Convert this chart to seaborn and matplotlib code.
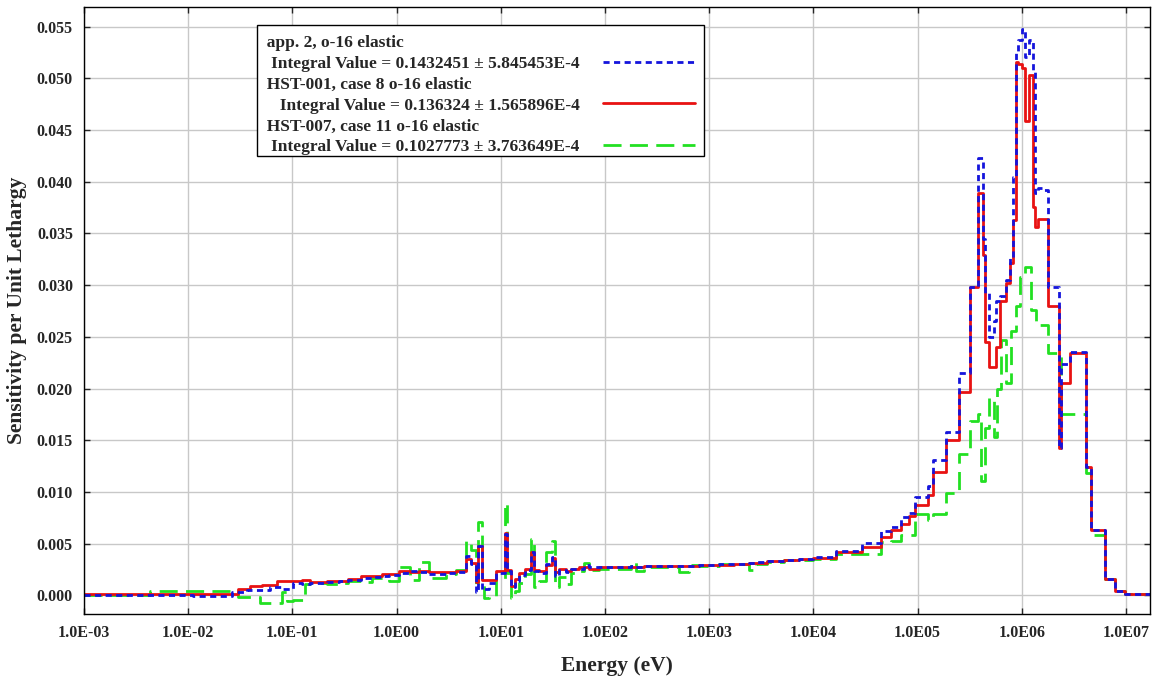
import matplotlib
matplotlib.use("Agg")
import matplotlib.pyplot as plt
import seaborn as sns
import pandas as pd
from matplotlib.offsetbox import TextArea
from matplotlib.legend_handler import HandlerLine2D
from matplotlib.lines import Line2D
from matplotlib.ticker import NullLocator

# group edges in eV (last entry only closes the final group)
energy_ev = [1.0e-3, 4.29e-3, 1.11e-2, 2.62e-2, 2.99e-2, 3.64e-2, 3.89e-2, 4.85e-2, 5.07e-2, 6.05e-2,
             7.06e-2, 7.89e-2, 8.79e-2, 0.1005, 0.1225, 0.131, 0.146, 0.213, 0.283, 0.338,
             0.460, 0.586, 0.731, 0.853, 1.06, 1.33, 1.65, 2.06, 3.00, 3.74,
             4.67, 5.20, 5.81, 6.08, 6.64, 6.93, 7.74, 9.04, 11.0, 11.5,
             12.6, 13.7, 15.0, 17.1, 19.5, 20.9, 23.3, 27.2, 31.0, 33.2,
             36.2, 42.3, 47.2, 56.4, 62.9, 70.3, 87.7, 177, 198, 237,
             512, 638, 795, 1236, 1722, 2395, 2794, 3565, 5180, 7210,
             9820, 1.63e4, 2.90e4, 4.41e4, 5.61e4, 7.00e4, 8.34e4, 9.53e4, 1.27e5, 1.42e5,
             1.89e5, 2.51e5, 3.21e5, 3.82e5, 4.08e5, 4.27e5, 4.46e5, 4.87e5, 5.44e5, 5.69e5,
             5.81e5, 6.21e5, 6.35e5, 7.09e5, 7.74e5, 7.91e5, 8.27e5, 8.84e5, 9.24e5, 9.66e5,
             1.01e6, 1.08e6, 1.18e6, 1.23e6, 1.29e6, 1.34e6, 1.37e6, 1.44e6, 1.64e6, 1.79e6,
             2.28e6, 2.38e6, 2.91e6, 4.14e6, 4.62e6, 6.30e6, 7.85e6, 9.78e6, 2.0e7]

# app. 2 (blue dotted)
sens_app2 = [0.0000, 0.0000, -0.0001, 0.0003, 0.0003, 0.0005, 0.0005, 0.0005, 0.0005, 0.0008,
             0.0008, 0.0006, 0.0006, 0.0012, 0.0011, 0.0011, 0.0012, 0.0013, 0.0014, 0.0015,
             0.0017, 0.0018, 0.0019, 0.0020, 0.0022, 0.0024, 0.0023, 0.0021, 0.0022, 0.0023,
             0.0038, 0.0030, 0.0003, 0.0048, 0.0005, 0.0006, 0.0012, 0.0022, 0.0059, 0.0024,
             0.0008, 0.0014, 0.0020, 0.0025, 0.0042, 0.0024, 0.0022, 0.0030, 0.0037, 0.0019,
             0.0025, 0.0023, 0.0026, 0.0026, 0.0029, 0.0027, 0.0027, 0.0028, 0.0027, 0.0028,
             0.0028, 0.0028, 0.0029, 0.0030, 0.0030, 0.0031, 0.0032, 0.0033, 0.0034, 0.0035,
             0.0037, 0.0043, 0.0051, 0.0062, 0.0066, 0.0076, 0.0080, 0.0095, 0.0106, 0.0131,
             0.0158, 0.0215, 0.0298, 0.0423, 0.0423, 0.0345, 0.0292, 0.0250, 0.0265, 0.0285,
             0.0285, 0.0290, 0.0290, 0.0305, 0.0327, 0.0327, 0.0405, 0.0525, 0.0537, 0.0537,
             0.0548, 0.0521, 0.0537, 0.0537, 0.0506, 0.0389, 0.0389, 0.0394, 0.0392, 0.0298,
             0.0143, 0.0224, 0.0235, 0.0124, 0.0063, 0.0016, 0.0004, 0.0001]

# HST-001 case 8 (red solid)
sens_hst001 = [0.0001, 0.0001, 0.0001, 0.0001, 0.0006, 0.0006, 0.0009, 0.0009, 0.0010, 0.0010,
               0.0014, 0.0014, 0.0014, 0.0014, 0.0015, 0.0015, 0.0013, 0.0014, 0.0014, 0.0016,
               0.0019, 0.0019, 0.0021, 0.0021, 0.0024, 0.0023, 0.0024, 0.0023, 0.0023, 0.0024,
               0.0035, 0.0031, 0.0013, 0.0048, 0.0015, 0.0015, 0.0015, 0.0024, 0.0060, 0.0025,
               0.0009, 0.0016, 0.0022, 0.0026, 0.0042, 0.0025, 0.0024, 0.0029, 0.0036, 0.0023,
               0.0026, 0.0024, 0.0026, 0.0027, 0.0027, 0.0026, 0.0027, 0.0027, 0.0027, 0.0028,
               0.0028, 0.0028, 0.0029, 0.0029, 0.0030, 0.0031, 0.0031, 0.0033, 0.0034, 0.0035,
               0.0036, 0.0042, 0.0047, 0.0056, 0.0063, 0.0069, 0.0077, 0.0087, 0.0097, 0.0119,
               0.0150, 0.0197, 0.0298, 0.0389, 0.0389, 0.0329, 0.0245, 0.0221, 0.0221, 0.0240,
               0.0240, 0.0285, 0.0285, 0.0302, 0.0321, 0.0321, 0.0363, 0.0516, 0.0514, 0.0514,
               0.0510, 0.0459, 0.0503, 0.0503, 0.0376, 0.0356, 0.0356, 0.0364, 0.0364, 0.0280,
               0.0143, 0.0205, 0.0234, 0.0124, 0.0063, 0.0016, 0.0004, 0.0001]

# HST-007 case 11 (green dashed)
sens_hst007 = [0.0000, 0.0004, 0.0004, 0.0004, -0.0002, -0.0002, -0.0002, -0.0007, -0.0007, -0.0007,
               -0.0007, 0.0003, -0.0005, -0.0004, -0.0004, 0.0011, 0.0012, 0.0011, 0.0012, 0.0014,
               0.0013, 0.0017, 0.0017, 0.0014, 0.0027, 0.0015, 0.0032, 0.0017, 0.0021, 0.0025,
               0.0053, 0.0044, 0.0008, 0.0071, 0.0015, -0.0003, -0.0002, 0.0016, 0.0089, 0.0022,
               -0.0003, 0.0004, 0.0012, 0.0021, 0.0055, 0.0008, 0.0014, 0.0042, 0.0053, 0.0008,
               0.0018, 0.0011, 0.0022, 0.0024, 0.0031, 0.0025, 0.0026, 0.0032, 0.0024, 0.0027,
               0.0023, 0.0029, 0.0028, 0.0030, 0.0030, 0.0025, 0.0030, 0.0032, 0.0034, 0.0034,
               0.0035, 0.0040, 0.0040, 0.0052, 0.0053, 0.0058, 0.0058, 0.0079, 0.0073, 0.0079,
               0.0099, 0.0137, 0.0169, 0.0175, 0.0111, 0.0111, 0.0162, 0.0191, 0.0153, 0.0153,
               0.0200, 0.0200, 0.0247, 0.0205, 0.0205, 0.0256, 0.0256, 0.0280, 0.0280, 0.0308,
               0.0308, 0.0318, 0.0318, 0.0276, 0.0276, 0.0276, 0.0261, 0.0261, 0.0261, 0.0234,
               0.0234, 0.0175, 0.0175, 0.0118, 0.0058, 0.0016, 0.0004, 0.0001]

LABELS = [
    "app. 2, o-16 elastic\n Integral Value = 0.1432451 \u00b1 5.845453E-4",
    "HST-001, case 8 o-16 elastic\n   Integral Value = 0.136324 \u00b1 1.565896E-4",
    "HST-007, case 11 o-16 elastic\n Integral Value = 0.1027773 \u00b1 3.763649E-4",
]
XTICKS = [1e-3, 1e-2, 1e-1, 1e0, 1e1, 1e2, 1e3, 1e4, 1e5, 1e6, 1e7]
XTICK_LABELS = ["1.0E-03", "1.0E-02", "1.0E-01", "1.0E00", "1.0E01", "1.0E02",
                "1.0E03", "1.0E04", "1.0E05", "1.0E06", "1.0E07"]
YTICKS = [0.000, 0.005, 0.010, 0.015, 0.020, 0.025, 0.030, 0.035, 0.040, 0.045, 0.050, 0.055]


def steps(values):
    # repeat the last value so the last group reaches the closing edge
    return pd.DataFrame({"energy": energy_ev, "sens": values + values[-1:]})


class RightPadLine(HandlerLine2D):
    # leave some blank room between the sample line and the legend frame
    def create_artists(self, legend, orig_handle, xdescent, ydescent,
                       width, height, fontsize, trans):
        return super().create_artists(legend, orig_handle, xdescent, ydescent,
                                      width - 0.45 * fontsize, height, fontsize, trans)


sns.set_style("ticks")
plt.rcParams["font.family"] = ["Liberation Serif", "DejaVu Serif"]
plt.rcParams["font.weight"] = "bold"
plt.rcParams["axes.labelweight"] = "bold"

fig = plt.figure(figsize=(11.56, 6.79), dpi=100)
ax = fig.add_axes([84 / 1156, 1 - 614 / 679, (1150 - 84) / 1156, (614 - 7) / 679])
ax.set_xscale("log")

# green first so red and blue sit on top
series = [
    (sens_hst007, "#22e022", (0, (6.5, 3.0)), LABELS[2]),
    (sens_hst001, "#e81212", "-", LABELS[1]),
    (sens_app2, "#1414dc", (0, (2.2, 1.6)), LABELS[0]),
]
for vals, color, ls, label in series:
    sns.lineplot(data=steps(vals), x="energy", y="sens", ax=ax, color=color,
                 linestyle=ls, linewidth=2, drawstyle="steps-post", label=label,
                 estimator=None, errorbar=None, sort=False)

ax.set_xlim(1e-3, 1.7e7)
ax.set_ylim(-0.0018, 0.0569)
ax.set_xticks(XTICKS)
ax.set_xticklabels(XTICK_LABELS)
ax.xaxis.set_minor_locator(NullLocator())
ax.set_yticks(YTICKS)
ax.set_yticklabels([f"{v:.3f}" for v in YTICKS])
ax.tick_params(direction="in", length=4, width=1, top=True, right=True,
               labelsize=11.5, pad=8)
ax.grid(True, color="#c8c8c8", linewidth=1)
ax.set_axisbelow(True)
for sp in ax.spines.values():
    sp.set_color("black")
    sp.set_linewidth(1)

ax.set_xlabel("Energy (eV)", fontsize=15.5, labelpad=11)
ax.set_ylabel("Sensitivity per Unit Lethargy", fontsize=15.5, labelpad=7)

lines = ax.get_lines()
handles = [lines[2], lines[1], lines[0]]
# two spaces in front of every line stand in for the left padding
leg_labels = ["\n".join("  " + s for s in lab.split("\n")) for lab in LABELS]
# tiny blank title gives the extra room above the first row, small pad below
leg = ax.legend(handles, leg_labels, loc="upper left", bbox_to_anchor=(0.162, 0.970),
                borderaxespad=0, markerfirst=False, fontsize=12.5,
                handlelength=5.75, handletextpad=1.35, labelspacing=0.28,
                frameon=True, fancybox=False, edgecolor="black", framealpha=1,
                borderpad=0.06, title=" ", title_fontsize=2,
                handler_map={Line2D: RightPadLine()})
leg.get_frame().set_linewidth(1.0)
for t in leg.get_texts():
    t.set_linespacing(1.4)
# put each sample line next to the second line of its label
for ta in leg.findobj(TextArea):
    ta.set_multilinebaseline(False)

fig.savefig("out.png", dpi=100, facecolor="white")
